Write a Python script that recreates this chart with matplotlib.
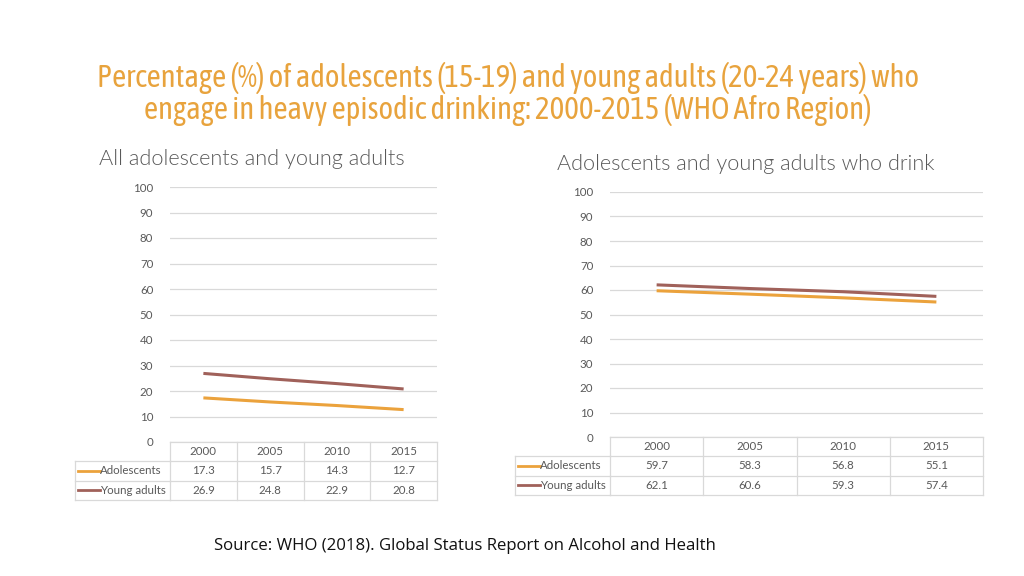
import matplotlib
matplotlib.use('Agg')
import matplotlib.pyplot as plt
import matplotlib.transforms as mtransforms
from matplotlib.lines import Line2D

plt.rcParams['font.family'] = ['Lato', 'DejaVu Sans']

# data
years = ['2000', '2005', '2010', '2015']
series_names = ['Adolescents', 'Young adults']
all_adolescents = [17.3, 15.7, 14.3, 12.7]
all_young_adults = [26.9, 24.8, 22.9, 20.8]
drink_adolescents = [59.7, 58.3, 56.8, 55.1]
drink_young_adults = [62.1, 60.6, 59.3, 57.4]

title = ('Percentage (%) of adolescents (15-19) and young adults (20-24 years) who\n'
         'engage in heavy episodic drinking: 2000-2015 (WHO Afro Region)')
left_title = 'All adolescents and young adults'
right_title = 'Adolescents and young adults who drink'
source = 'Source: WHO (2018). Global Status Report on Alcohol and Health'

colors = ['#EBA23C', '#A0615A']
grid_c = '#D9D9D9'
txt_c = '#595959'

W, H = 1024, 576
fig = plt.figure(figsize=(W / 100, H / 100), dpi=100)
renderer = fig.canvas.get_renderer()


def px(x0, y0, x1, y1):
    # pixel box -> figure fraction rect
    return [x0 / W, 1 - y1 / H, (x1 - x0) / W, (y1 - y0) / H]


def fit(t, width_px):
    # shrink / grow the font so the text spans about width_px
    w = t.get_window_extent(renderer).width
    t.set_fontsize(t.get_fontsize() * width_px / w)


def panel(rect, label_x, head_x0, vals, row_h):
    ax = fig.add_axes(rect)
    x = range(len(years))
    for v, c in zip(vals, colors):
        ax.plot(x, v, color=c, lw=2.2, solid_capstyle='butt')
    ax.set_xlim(-0.5, len(years) - 0.5)
    ax.set_ylim(0, 100)
    ax.set_yticks(range(0, 101, 10))
    ax.yaxis.grid(True, color=grid_c, lw=0.9)
    ax.set_axisbelow(True)
    ax.tick_params(axis='y', length=0, labelsize=8.3, labelcolor=txt_c, pad=12)
    ax.tick_params(axis='x', length=0, labelbottom=False)
    for s in ax.spines.values():
        s.set_visible(False)

    # data table under the plot
    trans = mtransforms.blended_transform_factory(ax.transData, ax.transAxes)
    h = ax.get_position().height * H
    rh = row_h / h  # row height in axes units
    n = len(years)
    tbl_kw = dict(color=grid_c, lw=0.9, transform=trans, clip_on=False)
    for i in range(n + 1):
        ax.add_line(Line2D([i - 0.5, i - 0.5], [0, -3 * rh], **tbl_kw))
    for k in range(4):
        ax.add_line(Line2D([-0.5, n - 0.5], [-k * rh, -k * rh], **tbl_kw))
    # row-header block
    ax_tr = ax.transAxes
    w = ax.get_position().width * W
    hx0 = (head_x0 - rect[0] * W) / w
    for k in (1, 2, 3):
        ax.add_line(Line2D([hx0, 0], [-k * rh, -k * rh], color=grid_c, lw=0.9,
                           transform=ax_tr, clip_on=False))
    ax.add_line(Line2D([hx0, hx0], [-rh, -3 * rh], color=grid_c, lw=0.9,
                       transform=ax_tr, clip_on=False))
    for i, yr in enumerate(years):
        ax.text(i, -0.5 * rh, yr, transform=trans, ha='center', va='center',
                fontsize=8.3, color=txt_c)
    for r, (name, v, c) in enumerate(zip(series_names, vals, colors)):
        yy = -(1.5 + r) * rh
        for i, val in enumerate(v):
            ax.text(i, yy, f'{val:.1f}', transform=trans, ha='center', va='center',
                    fontsize=8.3, color=txt_c)
        lx0 = hx0 + 3 / w
        lx1 = (label_x - rect[0] * W) / w
        ax.add_line(Line2D([lx0, lx1], [yy, yy], color=c, lw=2,
                           transform=ax_tr, clip_on=False))
        ax.text(lx1, yy, name, transform=ax_tr, ha='left', va='center',
                fontsize=8.3, color=txt_c)
    return ax


panel(px(170, 187, 437, 442), 100, 75, [all_adolescents, all_young_adults], 19.3)
panel(px(610, 192, 983, 437), 540, 515, [drink_adolescents, drink_young_adults], 19.3)

t1 = fig.text(99 / W, 1 - 159 / H, left_title, fontsize=13.5, color=txt_c,
              ha='left', va='center', fontweight=300)
fit(t1, 306)
t2 = fig.text(557 / W, 1 - 164 / H, right_title, fontsize=13.5, color=txt_c,
              ha='left', va='center', fontweight=300)
fit(t2, 378)

tt = fig.text(508 / W, 1 - 94 / H, title, ha='center', va='center', fontsize=20,
              color='#E8A33D', linespacing=1.0,
              family=['Asap Condensed', 'Lato', 'DejaVu Sans'])
fit(tt, 823)
ts = fig.text(465 / W, 1 - 546 / H, source, ha='center', va='center', fontsize=11.5,
              color='#111111', family=['Open Sans', 'DejaVu Sans'])
fit(ts, 504)

fig.savefig('out.png', dpi=100, facecolor='white')
